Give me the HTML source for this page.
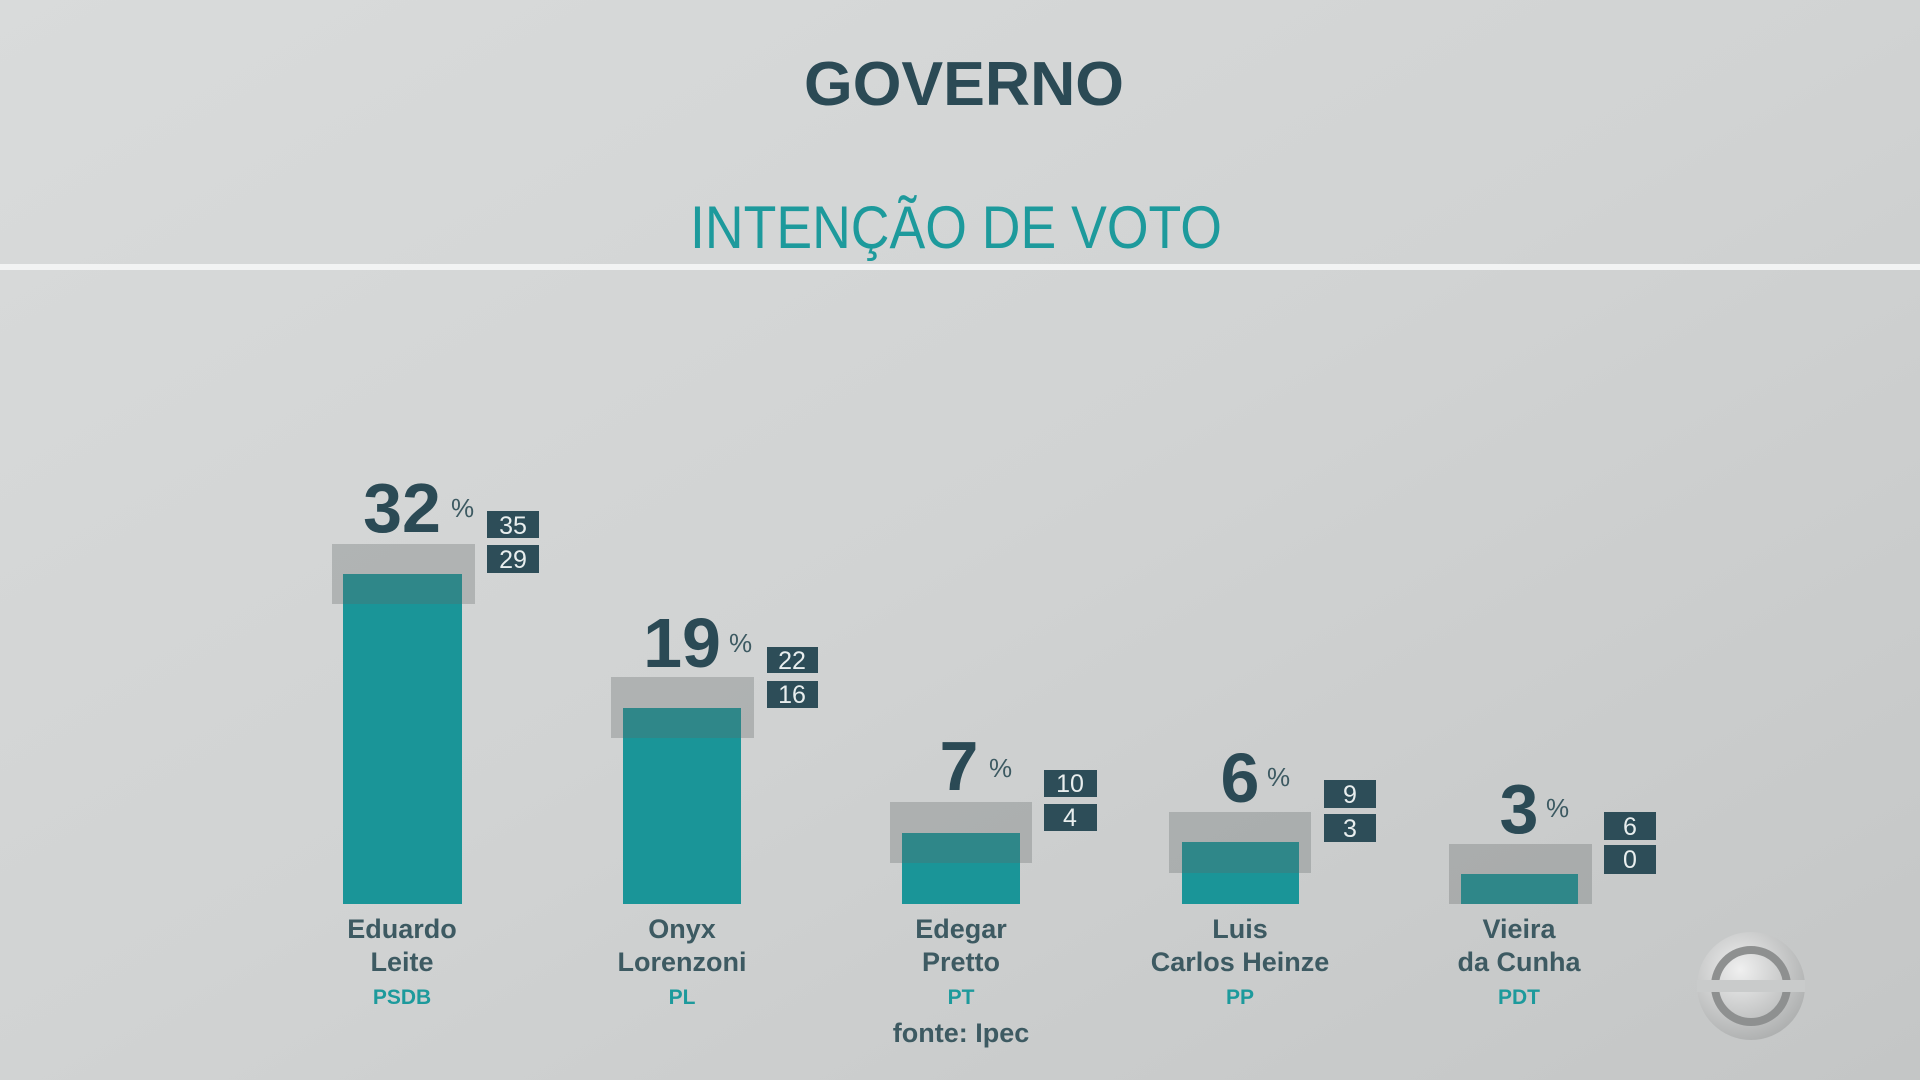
<!DOCTYPE html>
<html><head><meta charset="utf-8"><style>
html,body{margin:0;padding:0;width:1920px;height:1080px;overflow:hidden}
text{font-family:"Liberation Sans","DejaVu Sans",sans-serif}
</style></head><body>
<svg width="1920" height="1080" viewBox="0 0 1920 1080" xmlns="http://www.w3.org/2000/svg">
<defs>
<linearGradient id="bg" x1="0" y1="0" x2="1" y2="1">
<stop offset="0" stop-color="#d9dbdb"/><stop offset="0.5" stop-color="#d1d3d3"/><stop offset="1" stop-color="#c4c6c6"/>
</linearGradient>
<radialGradient id="logo" cx="0.4" cy="0.35" r="0.7">
<stop offset="0" stop-color="#f4f4f4"/><stop offset="1" stop-color="#a9abab"/>
</radialGradient>
</defs>
<rect width="1920" height="1080" fill="url(#bg)"/>
<text x="964" y="105" text-anchor="middle" font-size="62" font-weight="bold" fill="#2b4a55" textLength="320" lengthAdjust="spacingAndGlyphs">GOVERNO</text>
<text x="956" y="248" text-anchor="middle" font-size="60" fill="#1d9a9c" textLength="532" lengthAdjust="spacingAndGlyphs">INTENÇÃO DE VOTO</text>
<rect x="0" y="264" width="1920" height="6" fill="#f2f3f3"/>

<g fill="#1a9598">
<rect x="343" y="574" width="119" height="330"/>
<rect x="623" y="708" width="118" height="196"/>
<rect x="902" y="833" width="118" height="71"/>
<rect x="1182" y="842" width="117" height="62"/>
<rect x="1461" y="874" width="117" height="30"/>
</g>
<g fill="#5f6767" opacity="0.3">
<rect x="332" y="544" width="143" height="60"/>
<rect x="611" y="677" width="143" height="61"/>
<rect x="890" y="802" width="142" height="61"/>
<rect x="1169" y="812" width="142" height="61"/>
<rect x="1449" y="844" width="143" height="60"/>
</g>

<g fill="#2b4a55" font-weight="bold">
<text x="402" y="532" text-anchor="middle" font-size="70">32</text>
<text x="682" y="667" text-anchor="middle" font-size="70">19</text>
<text x="959" y="790" text-anchor="middle" font-size="70">7</text>
<text x="1240" y="802" text-anchor="middle" font-size="70">6</text>
<text x="1519" y="833" text-anchor="middle" font-size="70">3</text>
</g>
<g fill="#3d5a62" font-size="26">
<text x="451" y="517">%</text>
<text x="729" y="652">%</text>
<text x="989" y="777">%</text>
<text x="1267" y="786">%</text>
<text x="1546" y="817">%</text>
</g>

<g fill="#2d4d58">
<rect x="487" y="511" width="52" height="27"/><rect x="487" y="545" width="52" height="28"/>
<rect x="767" y="647" width="51" height="26"/><rect x="767" y="681" width="51" height="27"/>
<rect x="1044" y="770" width="53" height="27"/><rect x="1044" y="804" width="53" height="27"/>
<rect x="1324" y="780" width="52" height="28"/><rect x="1324" y="814" width="52" height="28"/>
<rect x="1604" y="812" width="52" height="28"/><rect x="1604" y="845" width="52" height="29"/>
</g>
<g fill="#e8eeee" font-size="25" text-anchor="middle">
<text x="513" y="534">35</text><text x="513" y="568">29</text>
<text x="792" y="669">22</text><text x="792" y="703">16</text>
<text x="1070" y="792">10</text><text x="1070" y="826">4</text>
<text x="1350" y="803">9</text><text x="1350" y="837">3</text>
<text x="1630" y="835">6</text><text x="1630" y="868">0</text>
</g>

<g fill="#3d5a62" font-size="27" font-weight="bold" text-anchor="middle">
<text x="402" y="938">Eduardo</text><text x="402" y="971">Leite</text>
<text x="682" y="938">Onyx</text><text x="682" y="971">Lorenzoni</text>
<text x="961" y="938">Edegar</text><text x="961" y="971">Pretto</text>
<text x="1240" y="938">Luis</text><text x="1240" y="971">Carlos Heinze</text>
<text x="1519" y="938">Vieira</text><text x="1519" y="971">da Cunha</text>
</g>
<g fill="#1d9a9c" font-size="21" font-weight="bold" text-anchor="middle">
<text x="402" y="1004">PSDB</text><text x="682" y="1004">PL</text><text x="961" y="1004">PT</text>
<text x="1240" y="1004">PP</text><text x="1519" y="1004">PDT</text>
</g>
<text x="961" y="1042" text-anchor="middle" font-size="27" font-weight="bold" fill="#3d5a62">fonte: Ipec</text>

<g>
<circle cx="1751" cy="986" r="54" fill="url(#logo)" opacity="0.9"/>
<circle cx="1751" cy="986" r="36" fill="none" stroke="#8e9090" stroke-width="8"/>
<rect x="1697" y="980" width="108" height="12" fill="#c9cbcb"/>
</g>
</svg>
</body></html>
